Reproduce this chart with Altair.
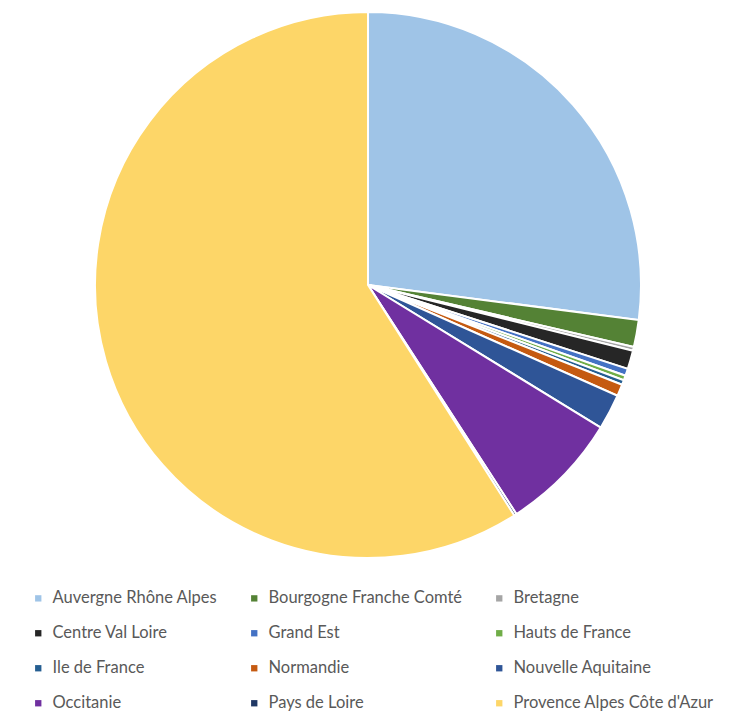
import altair as alt
import pandas as pd

regions = ["Auvergne Rhône Alpes", "Bourgogne Franche Comté", "Bretagne",
           "Centre Val Loire", "Grand Est", "Hauts de France",
           "Ile de France", "Normandie", "Nouvelle Aquitaine",
           "Occitanie", "Pays de Loire", "Provence Alpes Côte d'Azur"]
values = [27.05, 1.6, 0.22, 1.1, 0.42, 0.28, 0.28, 0.7, 2.1, 7.1, 0.15, 59.0]
colors = ["#9fc4e7", "#548235", "#a5a5a5", "#262626", "#4472c4", "#70ad47",
          "#255e91", "#c55a11", "#2f5597", "#7030a0", "#203864", "#fdd668"]

df = pd.DataFrame({"region": regions, "value": values, "idx": list(range(len(regions)))})

chart = alt.Chart(df).mark_arc(
    outerRadius=273, stroke="white", strokeWidth=2
).encode(
    theta=alt.Theta("value:Q", stack=True),
    order=alt.Order("idx:Q"),
    x=alt.value(360),
    y=alt.value(274),
    color=alt.Color(
        "region:N",
        sort=regions,
        scale=alt.Scale(domain=regions, range=colors),
        legend=alt.Legend(
            title=None, orient="none", legendX=22, legendY=579,
            direction="horizontal",
            columns=3, columnPadding=28, rowPadding=18,
            symbolType="square", symbolSize=40, symbolStrokeWidth=0,
            labelFont="Lato", labelFontSize=16.5, labelColor="#595959",
            labelOffset=6, labelLimit=400, gridAlign="each",
        ),
    ),
).properties(
    width=728, height=696, padding=0
).configure_view(stroke=None)

chart.save("out.html", embed_options={"renderer": "svg", "actions": False})
